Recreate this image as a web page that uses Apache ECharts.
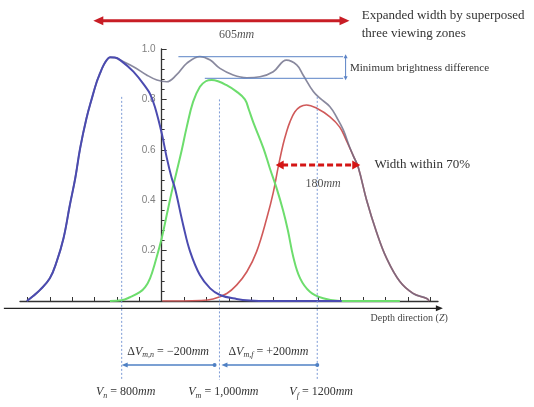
<!DOCTYPE html>
<html><head><meta charset="utf-8">
<script src="https://cdn.jsdelivr.net/npm/echarts@6/dist/echarts.min.js"></script>
<style>html,body{margin:0;padding:0;background:#fff}#c{width:534px;height:407px}</style>
</head><body><div id="c"></div>
<script>
// ---- data (depth in mm, relative brightness) ----
const blueMm  = [606,619,633,653,667,681,694,705,715,728,739,749,756,762,769,776,786,797,824,851,858,868,882,892,902,909,926,940,960,981,1001,1035,1062,1103,1250];
const blueVal = [0,0.02,0.044,0.09,0.156,0.249,0.381,0.487,0.606,0.725,0.804,0.87,0.905,0.932,0.955,0.967,0.966,0.956,0.91,0.844,0.822,0.77,0.665,0.57,0.49,0.447,0.30,0.196,0.103,0.05,0.024,0.008,0.002,0,0];
const greenMm  = [776,800,817,837,848,858,868,882,892,902,912,923,933,946,960,972,984,997,1013,1035,1052,1060,1069,1090,1103,1117,1130,1140,1151,1165,1185,1212,1246,1369];
const greenVal = [0,0.003,0.015,0.035,0.055,0.09,0.15,0.25,0.34,0.43,0.51,0.60,0.69,0.79,0.85,0.872,0.877,0.872,0.858,0.831,0.80,0.76,0.71,0.606,0.527,0.447,0.36,0.28,0.175,0.09,0.037,0.011,0,0];
const redMm  = [883,960,987,1015,1035,1056,1076,1097,1110,1120,1130,1137,1144,1154,1165,1178,1199,1226,1246,1260,1274,1284,1301,1321,1342,1369,1396,1424,1429];
const redVal = [0,0.002,0.008,0.03,0.063,0.116,0.196,0.33,0.43,0.53,0.62,0.67,0.71,0.75,0.771,0.778,0.765,0.731,0.69,0.635,0.575,0.53,0.40,0.275,0.169,0.077,0.03,0.01,0];
const sumMm  = [606,619,633,653,667,681,694,705,715,728,739,749,756,762,769,776,786,797,824,851,872,892,912,933,960,981,1001,1028,1056,1083,1110,1137,1158,1171,1192,1206,1226,1240,1253,1266,1274,1284,1301,1321,1342,1369,1396,1424,1429];
const sumVal = [0,0.02,0.044,0.09,0.156,0.249,0.381,0.487,0.606,0.725,0.804,0.87,0.905,0.932,0.955,0.967,0.966,0.956,0.93,0.897,0.877,0.870,0.897,0.943,0.970,0.956,0.923,0.897,0.886,0.89,0.91,0.956,0.937,0.897,0.831,0.804,0.771,0.728,0.68,0.612,0.575,0.53,0.40,0.275,0.169,0.077,0.03,0.01,0];
const yTickLabels = ['0.2','0.4','0.6','0.8','1.0'];
const plotTicks = [-6,-5,-4,-3,-2,-1,0,1,2,3,4,5,6,7,8,9,10,11,12];
const viewDist = [800, 1000, 1200];
const viewSub = ['n','m','f'];
const viewText = ['800','1,000','1200'];
const deltaSub = ['m,n','m,f'];
const deltaText = ['−200','+200'];

const pairs = (xs, ys) => xs.map((x, i) => [x, ys[i]]);
const SERIF = '"Liberation Serif", "Times New Roman", serif';
const GRID = {left: 20, right: 96, top: 49, bottom: 106};
const U_MIN = -6.33, U_MAX = 12.35;

function richSet(size, fill) {
  return {
    n: {fontFamily: SERIF, fontSize: size, fill: fill},
    i: {fontFamily: SERIF, fontSize: size, fontStyle: 'italic', fill: fill},
    s: {fontFamily: SERIF, fontSize: Math.round(size * 0.66), fontStyle: 'italic', fill: fill, padding: [Math.round(size * 0.6), 0, 0, 0]}
  };
}

function renderAnnotations(params, api) {
  const P = (x, y) => api.coord([x, y]);
  const out = [];
  const seg = (a, b, stroke, lw, dash) => out.push({type: 'line', shape: {x1: a[0], y1: a[1], x2: b[0], y2: b[1]}, style: {stroke: stroke, lineWidth: lw, lineDash: dash || null}});
  const head = (tip, from, len, half, fill) => {
    const dx = tip[0] - from[0], dy = tip[1] - from[1], d = Math.hypot(dx, dy) || 1;
    const ux = dx / d, uy = dy / d, bx = tip[0] - ux * len, by = tip[1] - uy * len;
    out.push({type: 'polygon', shape: {points: [[tip[0], tip[1]], [bx - uy * half, by + ux * half], [bx + uy * half, by - ux * half]]}, style: {fill: fill}});
  };
  const arrow = (a, b, o) => {
    const dx = b[0] - a[0], dy = b[1] - a[1], d = Math.hypot(dx, dy) || 1, ux = dx / d, uy = dy / d;
    const s = o.headA ? o.len * 0.8 : 0, e = o.headB ? o.len * 0.8 : 0;
    seg([a[0] + ux * s, a[1] + uy * s], [b[0] - ux * e, b[1] - uy * e], o.color, o.lw, o.dash);
    if (o.headA) head(a, b, o.len, o.half, o.color);
    if (o.headB) head(b, a, o.len, o.half, o.color);
  };
  const txt = (p, str, size, align, fill) => out.push({type: 'text', x: p[0], y: p[1], style: {text: str, fill: fill || '#333', font: size + 'px ' + SERIF, align: align || 'left', verticalAlign: 'middle', textAlign: align || 'left', textVerticalAlign: 'middle', rich: richSet(size, fill || '#333')}});

  viewDist.forEach((v, i) => seg(P(v, [0.81, 0.80, 0.81][i]), P(v, -0.313), '#7c9ad6', 1, [2, 2]));
  arrow(P(559, -0.029), P(1457, -0.029), {color: '#222', lw: 1.3, headB: true, len: 7, half: 3});
  txt(P(1467, -0.069), '{n|Depth direction (}{i|Z}{n|)}', 10, 'right', '#444');
  arrow(P(800, -0.254), P(990, -0.254), {color: '#4f80c4', lw: 1.3, headA: true, len: 6, half: 2.5});
  arrow(P(1004, -0.254), P(1200, -0.254), {color: '#4f80c4', lw: 1.3, headA: true, len: 6, half: 2.5});
  [990, 1200].forEach(v => { const p = P(v, -0.254); out.push({type: 'circle', shape: {cx: p[0], cy: p[1], r: 2}, style: {fill: '#4f80c4'}}); });
  deltaSub.forEach((s, i) => txt(P([895, 1100][i], -0.201), '{n|Δ}{i|V}{s|' + s + '}{n| = ' + deltaText[i] + '}{i|mm}', 12, 'center'));
  viewDist.forEach((v, i) => txt(P(v + 8, -0.362), '{i|V}{s|' + viewSub[i] + '}{n| = ' + viewText[i] + '}{i|mm}', 12, 'center'));
  arrow(P(742, 1.112), P(1266, 1.112), {color: '#c81d25', lw: 3, headA: true, headB: true, len: 10, half: 4.5});
  txt(P(1035, 1.058), '{n|605}{i|mm}', 12, 'center', '#555');
  txt(P(1291, 1.134), '{n|Expanded width by superposed}', 13, 'left');
  txt(P(1291, 1.060), '{n|three viewing zones}', 13, 'left');
  seg(P(916, 0.9694), P(1253, 0.9694), '#5b83c6', 1);
  seg(P(970, 0.8837), P(1253, 0.8837), '#5b83c6', 1);
  arrow(P(1258, 0.979), P(1258, 0.876), {color: '#5b83c6', lw: 1, headA: true, headB: true, len: 4, half: 2});
  txt(P(1267, 0.923), '{n|Minimum brightness difference}', 11, 'left');
  arrow(P(1115, 0.54), P(1288, 0.54), {color: '#d41515', lw: 3, dash: [6, 3], headA: true, headB: true, len: 8, half: 4.5});
  txt(P(1212, 0.465), '{n|180}{i|mm}', 12, 'center', '#555');
  txt(P(1317, 0.54), '{n|Width within 70%}', 13, 'left');
  return {type: 'group', children: out};
}

const el = document.getElementById('c');
const chart = echarts.init(el, null, {renderer: 'canvas'});
const gridWidth = el.clientWidth - GRID.left - GRID.right;
// y axis sits at the plot's native zero: shift it from the grid's left edge
const yAxisShift = -(0 - U_MIN) / (U_MAX - U_MIN) * gridWidth;
chart.setOption({
  animation: false,
  backgroundColor: '#fff',
  grid: Object.assign({containLabel: false, outerBoundsMode: 'none'}, GRID),
  xAxis: [
    {type: 'value', min: 592, max: 1447, show: false},
    {type: 'value', min: U_MIN, max: U_MAX, position: 'bottom',
      axisLine: {show: true, onZero: false, lineStyle: {color: '#333', width: 1.3}},
      axisTick: {show: true, inside: true, length: 4, customValues: plotTicks, lineStyle: {color: '#333'}},
      axisLabel: {show: false}, splitLine: {show: false}}
  ],
  yAxis: {type: 'value', min: 0, max: 1, interval: 0.2, position: 'left', offset: yAxisShift,
    axisLine: {show: true, onZero: false, lineStyle: {color: '#333', width: 1.3}},
    axisTick: {show: true, inside: true, length: 5, lineStyle: {color: '#333'}},
    minorTick: {show: true, splitNumber: 5, length: 3, lineStyle: {color: '#333'}},
    axisLabel: {margin: 6, fontSize: 10, color: '#808080', fontFamily: '"Liberation Sans", sans-serif',
      formatter: v => { const k = Math.round(v * 5); return k > 0 ? yTickLabels[k - 1] : ''; }},
    splitLine: {show: false}, minorSplitLine: {show: false}},
  series: [
    {type: 'line', name: 'far', data: pairs(redMm, redVal), smooth: 0.4, showSymbol: false, symbol: 'none', lineStyle: {color: '#d05a5a', width: 1.6}},
    {type: 'line', name: 'sum', data: pairs(sumMm, sumVal), smooth: 0.4, showSymbol: false, symbol: 'none', lineStyle: {color: '#6c6c86', width: 1.7, opacity: 0.8}},
    {type: 'line', name: 'mid', data: pairs(greenMm, greenVal), smooth: 0.4, showSymbol: false, symbol: 'none', lineStyle: {color: '#6ddd6d', width: 2}},
    {type: 'line', name: 'near', data: pairs(blueMm, blueVal), smooth: 0.4, showSymbol: false, symbol: 'none', lineStyle: {color: '#4b4bb0', width: 2}},
    {type: 'custom', name: 'annotations', data: [[800, 0]], renderItem: renderAnnotations, clip: false, silent: true, z: 5}
  ]
});
</script></body></html>
